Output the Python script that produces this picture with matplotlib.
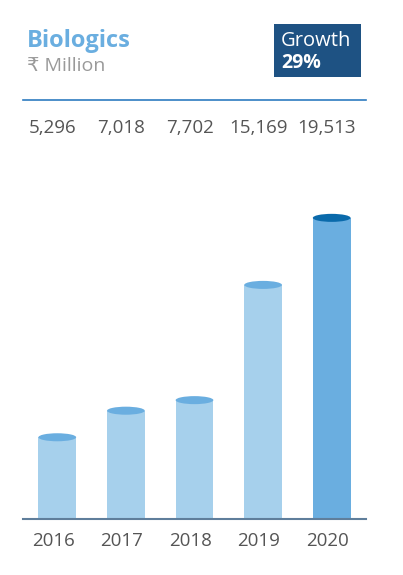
import matplotlib
matplotlib.use("Agg")
import matplotlib.pyplot as plt
from matplotlib.patches import Ellipse, Rectangle
from matplotlib.transforms import blended_transform_factory

years = ["2016", "2017", "2018", "2019", "2020"]
values = [5296, 7018, 7702, 15169, 19513]
value_labels = ["5,296", "7,018", "7,702", "15,169", "19,513"]
title = "Biologics"
unit = "₹ Million"
growth_label = "Growth"
growth_value = "29%"

plt.rcParams['font.family'] = ['Open Sans', 'DejaVu Sans']

W, H = 403, 575
fig = plt.figure(figsize=(W / 100, H / 100), dpi=100)

def fx(px):
    return px / W

def fy(py):
    return 1 - py / H

ax = fig.add_axes([fx(23), fy(519), fx(366) - fx(23), fy(100) - fy(519)])
ymax = 27150
ax.set_xlim(-0.5, 4.5)
ax.set_ylim(0, ymax)

body_light = "#a6d0ec"
top_light = "#6aaee0"
body_dark = "#6aaee0"
top_dark = "#0a6aab"
bw = 0.55
ell_h = 520

for i, v in enumerate(values):
    last = i == len(values) - 1
    bc = body_dark if last else body_light
    tc = top_dark if last else top_light
    ax.bar(i, v, width=bw, color=bc, zorder=2)
    ax.add_patch(Ellipse((i, v), bw, ell_h, facecolor=tc, edgecolor="none", zorder=3))

for s in ["left", "right"]:
    ax.spines[s].set_visible(False)
ax.spines["bottom"].set_color("#5f7e9b")
ax.spines["bottom"].set_linewidth(1.5)
ax.spines["bottom"].set_zorder(4)
ax.spines["top"].set_color("#2e7bc0")
ax.spines["top"].set_linewidth(1.2)
ax.set_yticks([])
ax.set_xticks([i - 0.06 for i in range(len(years))])
ax.set_xticklabels(years, fontsize=13.5, color="#555555")
ax.tick_params(axis="x", length=0, pad=9)

trans = blended_transform_factory(ax.transData, fig.transFigure)
for i, lab in enumerate(value_labels):
    ax.text(i - 0.07, fy(128), lab, transform=trans, ha="center", va="center",
            fontsize=13.5, color="#555555")

fig.text(fx(27), fy(41), title, fontsize=17, fontweight="bold", color="#6aaee0",
         ha="left", va="center")
fig.text(fx(27), fy(66), unit, fontsize=14, color="#9a9a9a", ha="left", va="center")

fig.patches.append(Rectangle((fx(274), fy(77)), fx(361) - fx(274), fy(24) - fy(77),
                             transform=fig.transFigure, facecolor="#1e5283",
                             edgecolor="none", zorder=1))
fig.text(fx(281), fy(41), growth_label, fontsize=14.5, color="white", ha="left", va="center")
fig.text(fx(281), fy(63), growth_value, fontsize=14, fontweight="bold", color="white",
         ha="left", va="center")

fig.savefig("out.png", dpi=100)
